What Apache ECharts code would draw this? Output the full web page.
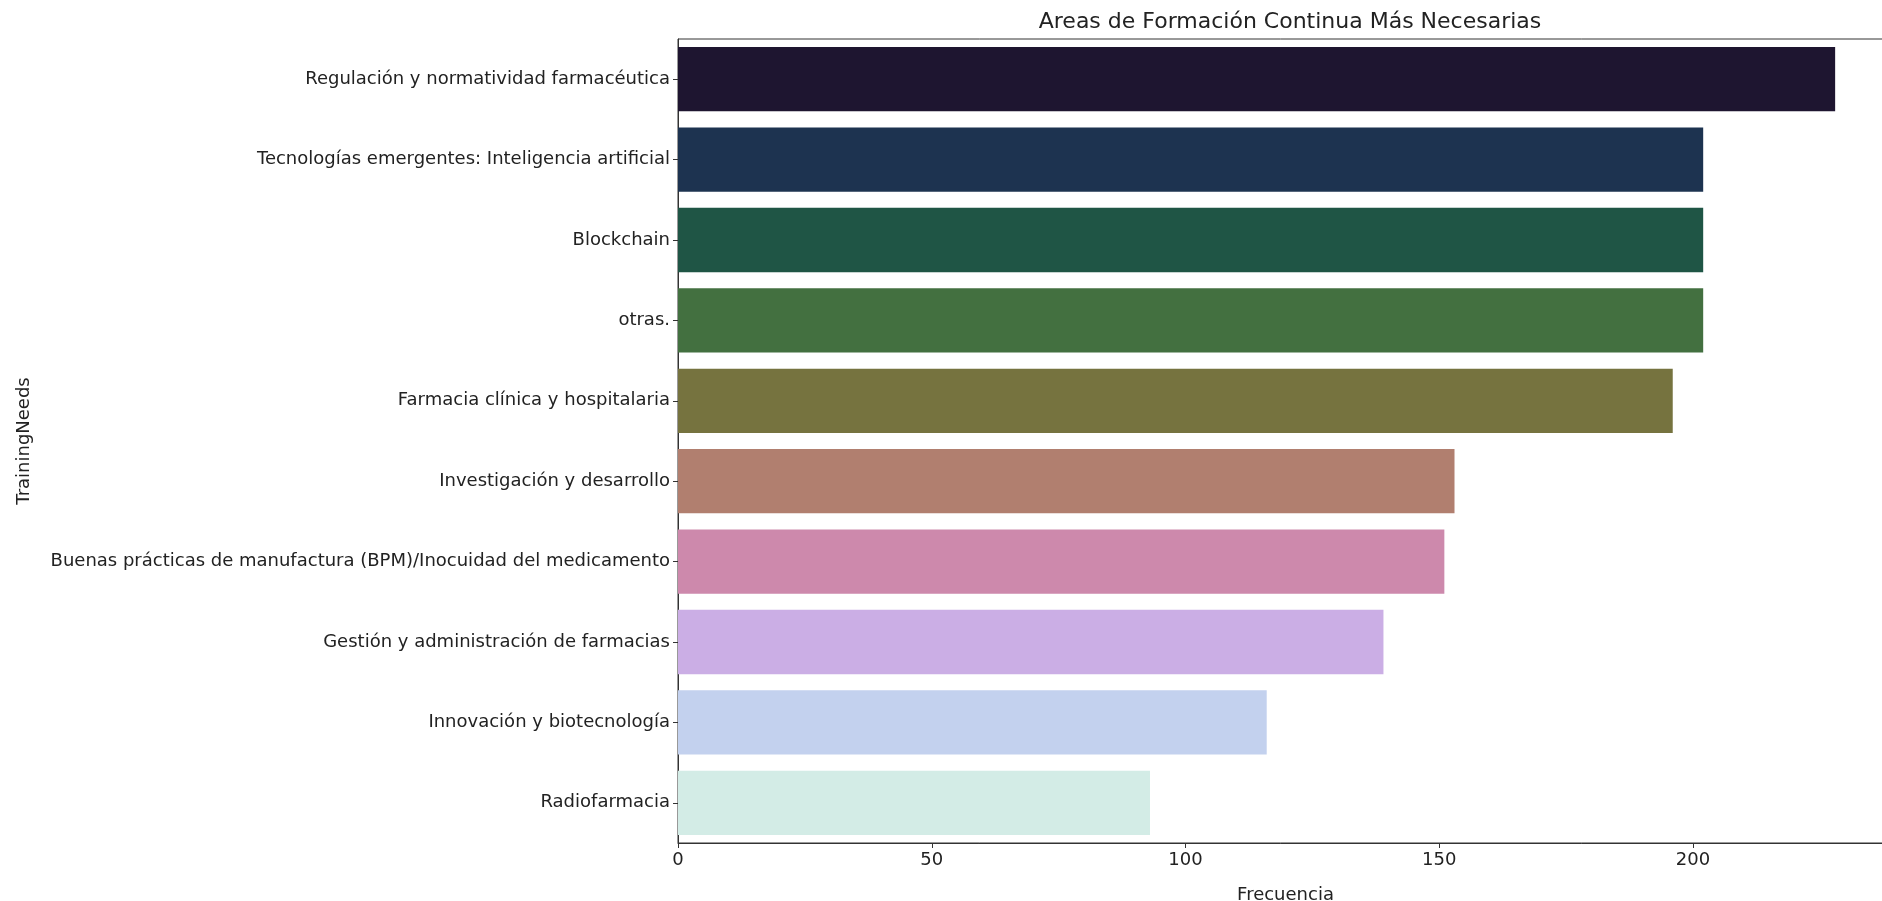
<!DOCTYPE html>
<html>
<head>
<meta charset="utf-8">
<script src="https://cdn.jsdelivr.net/npm/echarts@6/dist/echarts.min.js"></script>
<style>
html,body{margin:0;padding:0;background:#fff;}
#chart{width:1882px;height:901px;}
</style>
</head>
<body>
<div id="chart"></div>
<script>
const categories = [
  "Regulación y normatividad farmacéutica",
  "Tecnologías emergentes: Inteligencia artificial",
  "Blockchain",
  "otras.",
  "Farmacia clínica y hospitalaria",
  "Investigación y desarrollo",
  "Buenas prácticas de manufactura (BPM)/Inocuidad del medicamento",
  "Gestión y administración de farmacias",
  "Innovación y biotecnología",
  "Radiofarmacia"
];
const values = [228, 202, 202, 202, 196, 153, 151, 139, 116, 93];
const barColors = ["#1e1530", "#1d3350", "#1f5545", "#437040", "#76733f",
                   "#b17f6f", "#cd89ac", "#cbaee5", "#c3d1ee", "#d3ece6"];
const xTicks = [0, 50, 100, 150, 200];
const titleText = "Areas de Formación Continua Más Necesarias";
const xName = "Frecuencia";
const yName = "TrainingNeeds";

const chart = echarts.init(document.getElementById('chart'));
const font = "DejaVu Sans";
chart.setOption({
  backgroundColor: '#ffffff',
  animation: false,
  title: {
    text: titleText,
    left: 1285, top: 6, textAlign: 'center',
    textStyle: {fontFamily: font, fontSize: 22, fontWeight: 'normal', color: '#222'}
  },
  grid: {
    left: 678, top: 39, width: 1215, bottom: 58,
    outerBoundsMode: 'none', containLabel: false,
    show: true, borderColor: '#333', borderWidth: 1, backgroundColor: 'transparent'
  },
  xAxis: {
    type: 'value', min: 0, max: 239.4, interval: 50,
    name: xName, nameLocation: 'middle', nameGap: 43,
    nameTextStyle: {fontFamily: font, fontSize: 18, color: '#222'},
    axisLine: {show: true, lineStyle: {color: '#333', width: 1}},
    axisTick: {show: true, length: 5, lineStyle: {color: '#333'}},
    axisLabel: {
      fontFamily: font, fontSize: 18, color: '#222', margin: 8,
      showMaxLabel: false,
      formatter: v => xTicks.includes(v) ? String(v) : ''
    },
    splitLine: {show: false}
  },
  yAxis: {
    type: 'category', data: categories, inverse: true,
    name: yName, nameLocation: 'middle', nameGap: 645, nameRotate: 90,
    nameTextStyle: {fontFamily: font, fontSize: 18, color: '#222'},
    axisLine: {show: true, lineStyle: {color: '#333', width: 1}},
    axisTick: {show: true, length: 5, alignWithLabel: true, lineStyle: {color: '#333'}},
    axisLabel: {fontFamily: font, fontSize: 18, color: '#222', margin: 8},
    splitLine: {show: false}
  },
  series: [{
    type: 'bar',
    data: values.map((v, i) => ({value: v, itemStyle: {color: barColors[i]}})),
    barWidth: '80%'
  }]
});
</script>
</body>
</html>
